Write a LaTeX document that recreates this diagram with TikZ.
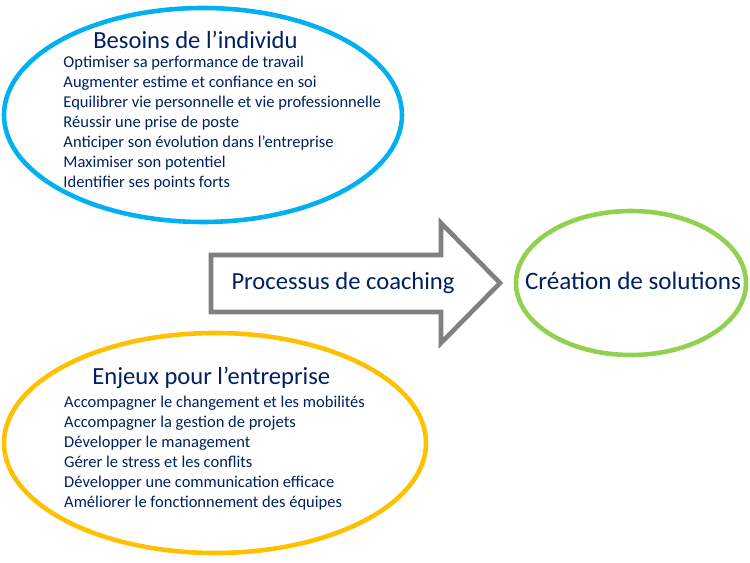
\documentclass[tikz,border=0pt]{standalone}
\usepackage{fontspec}
\setmainfont{Carlito}
\usetikzlibrary{shapes.geometric,positioning}
\definecolor{txtblue}{RGB}{0,32,96}
\definecolor{ringblue}{RGB}{0,176,240}
\definecolor{ringorange}{RGB}{255,192,0}
\definecolor{ringgreen}{RGB}{146,208,80}
\definecolor{arrowgray}{RGB}{128,128,128}
\begin{document}
\begin{tikzpicture}[x=0.02cm, y=-0.02cm,
    ring/.style={line width=2.6pt},
    title/.style={text=txtblue, font=\fontsize{14}{16}\selectfont, anchor=west, inner sep=0pt},
    items/.style={text=txtblue, font=\fontsize{9.4}{11.3}\selectfont, align=left, anchor=north west, inner sep=0pt},]
    \useasboundingbox (0,0) rectangle (750,563);
    % ellipses
    \draw[ring, ringblue] (203,115) ellipse [x radius=199, y radius=107];
    \draw[ring, ringorange] (215,443) ellipse [x radius=211, y radius=110];
    \draw[ring, ringgreen] (631,283) ellipse [x radius=115, y radius=72];
    % arrow
    \draw[line width=2.6pt, arrowgray, line join=miter]
        (211,255) -- (441,255) -- (441,223) -- (500,283) -- (441,343) -- (441,312) -- (211,312) -- cycle;
    \node[title] (besoins) at (93,40) {Besoins de l’individu};
    \node[items, below=4pt of besoins.south west, anchor=north west, xshift=-17pt] (besoinslist) {%
        Optimiser sa performance de travail\\
        Augmenter estime et confiance en soi\\
        Equilibrer vie personnelle et vie professionnelle\\
        Réussir une prise de poste\\
        Anticiper son évolution dans l’entreprise\\
        Maximiser son potentiel\\
        Identifier ses points forts};
    \node[title] (enjeux) at (92,378) {Enjeux pour l’entreprise};
    \node[items, below=4pt of enjeux.south west, anchor=north west, xshift=-16pt] (enjeuxlist) {%
        Accompagner le changement et les mobilités\\
        Accompagner la gestion de projets\\
        Développer le management\\
        Gérer le stress et les conflits\\
        Développer une communication efficace\\
        Améliorer le fonctionnement des équipes};
    \node[text=txtblue, font=\fontsize{14}{16}\selectfont] (processus) at (343,283) {Processus de coaching};
    \node[text=txtblue, font=\fontsize{14.3}{16}\selectfont] (solutions) at (633,281) {Création de solutions};
\end{tikzpicture}
\end{document}
